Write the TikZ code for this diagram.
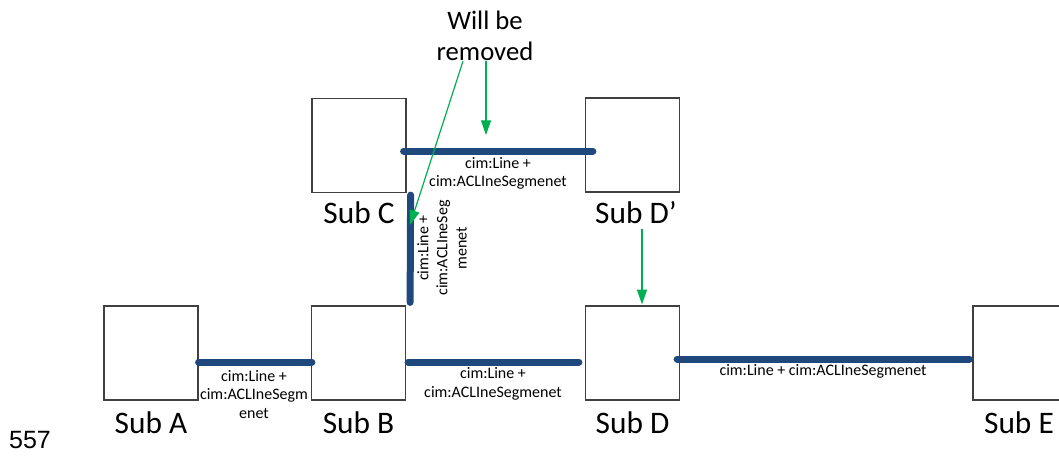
\documentclass[tikz,border=0pt]{standalone}
\usepackage{fontspec}
\setmainfont{Carlito}
\newfontfamily\arialfont{Liberation Sans}
\usetikzlibrary{arrows.meta,calc}
\definecolor{cimblue}{HTML}{1F497D}
\definecolor{grn}{HTML}{00B050}
\definecolor{boxgray}{HTML}{404040}
\begin{document}
\begin{tikzpicture}[x=0.75pt,y=-0.75pt,
  subbox/.style={draw=boxgray, line width=0.9pt, minimum width=70.5pt, minimum height=70.5pt, inner sep=0pt},
  sublabel/.style={font=\fontsize{23.5}{28}\selectfont, anchor=base, inner sep=0pt},
  cimline/.style={draw=cimblue, line width=5.25pt, line cap=round},
  cimlabel/.style={font=\fontsize{12}{13.9}\selectfont, align=center, inner sep=0pt},
  greenarrow/.style={draw=grn, line width=0.9pt, -{Triangle[width=7.5pt,length=11pt]}}]
\useasboundingbox (0,0) rectangle (1059,457);

% boxes
\node[subbox] (A)  at (151,353) {};
\node[subbox] (B)  at (358.5,353) {};
\node[subbox] (C)  at (359,145.5) {};
\node[subbox] (Dp) at (632.5,145) {};
\node[subbox] (D)  at (632.5,353) {};
\node[subbox] (E)  at (1020,353) {};

% box labels
\node[sublabel] (lA)  at (151,433) {Sub A};
\node[sublabel] (lB)  at (358.5,433) {Sub B};
\node[sublabel] (lC)  at (359,223) {Sub C};
\node[sublabel] (lDp) at (636,223) {Sub D’};
\node[sublabel] (lD)  at (632.5,433) {Sub D};
\node[sublabel] (lE)  at (1019,433) {Sub E};

% lines
\draw[cimline] ($(A.east)+(0,9)$) -- ($(B.west)+(1,9)$);
\draw[cimline] ($(B.east)+(2,9)$) -- ($(D.west)+(-6,9)$);
\draw[cimline] ($(D.east)+(-3,6)$) -- ($(E.west)+(-3,6)$);
\draw[cimline] ($(C.east)+(-3,5.5)$) -- ($(Dp.west)+(8,6)$);
\draw[cimline] ($(C.south east)+(4,2)$) -- ($(B.north east)+(4,-3)$);

% line labels
\node[cimlabel] (tAB) at (254,394.5) {cim:Line +\\cim:ACLIneSegm\\enet};
\node[cimlabel] (tBD) at (493,384) {cim:Line +\\cim:ACLIneSegmenet};
\node[cimlabel] (tDE) at (823,371) {cim:Line + cim:ACLIneSegmenet};
\node[cimlabel] (tCD) at (498,173.5) {cim:Line +\\cim:ACLIneSegmenet};
\node[cimlabel, font=\fontsize{12}{14.3}\selectfont, rotate=90] (tCB) at (442,248) {cim:Line +\\cim:ACLIneSeg\\menet};

% note
\node[font=\fontsize{20}{23.25}\selectfont, align=center, inner sep=0pt] (rem) at (485,36) {Will be\\removed};
\coordinate (tip1) at (486,135);
\coordinate (tip2) at (410,225);
\draw[greenarrow] ($(rem.south)+(1,0)$) -- (tip1);
\draw[greenarrow] ($(rem.south)+(-22,0)$) -- (tip2);
\draw[greenarrow] ($(D.north)+(9.5,-76)$) -- ($(D.north)+(9.5,-1)$);

% page number
\node[font=\arialfont\fontsize{18.75}{22}\selectfont, anchor=base, inner sep=0pt] (pg) at (30,448) {557};
\end{tikzpicture}
\end{document}
